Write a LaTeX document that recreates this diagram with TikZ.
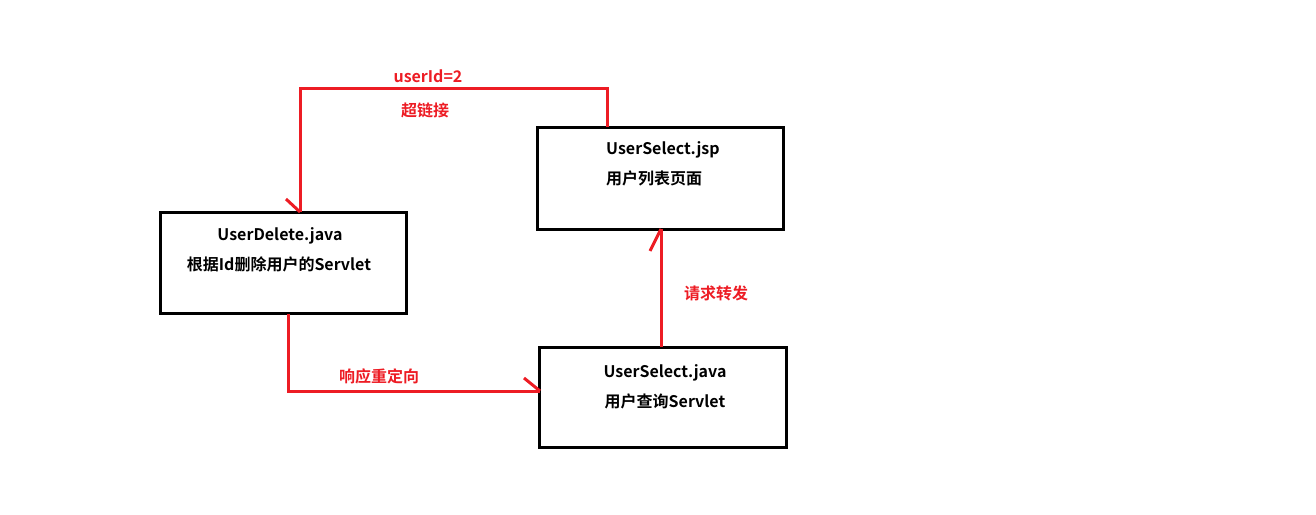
\documentclass[tikz,border=0pt]{standalone}
\usepackage{fontspec}
\setmainfont{Noto Sans CJK SC}[BoldFont={* Bold}]
\definecolor{pred}{HTML}{ED1C24}
\begin{document}
\begin{tikzpicture}[x=1pt,y=-1pt,
  box/.style={draw=black,line width=3pt,inner sep=0pt},
  lbl/.style={font=\fontsize{16}{19}\selectfont\bfseries,inner sep=0pt,anchor=center},
  rlbl/.style={lbl,text=pred},
  rline/.style={draw=pred,line width=3pt},
  tipline/.style={draw=pred,line width=3pt}]
\useasboundingbox (0,0) rectangle (1316,514);
% boxes
\node[box,minimum width=246pt,minimum height=101pt] (del) at (283.5,263) {};
\node[box,minimum width=246pt,minimum height=102pt] (jsp) at (660,178) {};
\node[box,minimum width=247pt,minimum height=100pt] (sel) at (662.5,397) {};
% texts
\node[lbl] (delA) at (280,236) {UserDelete.java};
\node[lbl] (delB) at (279,264) {根据Id删除用户的Servlet};
\node[lbl,anchor=west] (jspA) at (606,150) {UserSelect.jsp};
\node[lbl,anchor=west] (jspB) at (606,178) {用户列表页面};
\node[lbl] (selA) at (665,373) {UserSelect.java};
\node[lbl] (selB) at (665,401) {用户查询Servlet};
% coordinates
\coordinate (c1) at (607,127);
\coordinate (c2) at (607,88);
\coordinate (c3) at (300,88);
\coordinate (c4) at (300,212);
\coordinate (d1) at (288,314);
\coordinate (d2) at (288,391);
\coordinate (d3) at (540,391);
\coordinate (e1) at (661,347);
\coordinate (e2) at (661,229);
% connectors
\draw[rline] (c1) -- (c2) -- (c3) -- (c4);
\draw[tipline] (c4) -- ++(-14,-13);
\draw[rline] (d1) -- (d2) -- (d3);
\draw[tipline] (d3) -- ++(-16,-13);
\draw[rline] (e1) -- (e2);
\draw[tipline] (e2) -- ++(-11,22);
% labels
\node[rlbl] (l1) at (428,76) {userId=2};
\node[rlbl] (l2) at (425,110) {超链接};
\node[rlbl] (l3) at (379,376) {响应重定向};
\node[rlbl] (l4) at (716,293) {请求转发};
\end{tikzpicture}
\end{document}
